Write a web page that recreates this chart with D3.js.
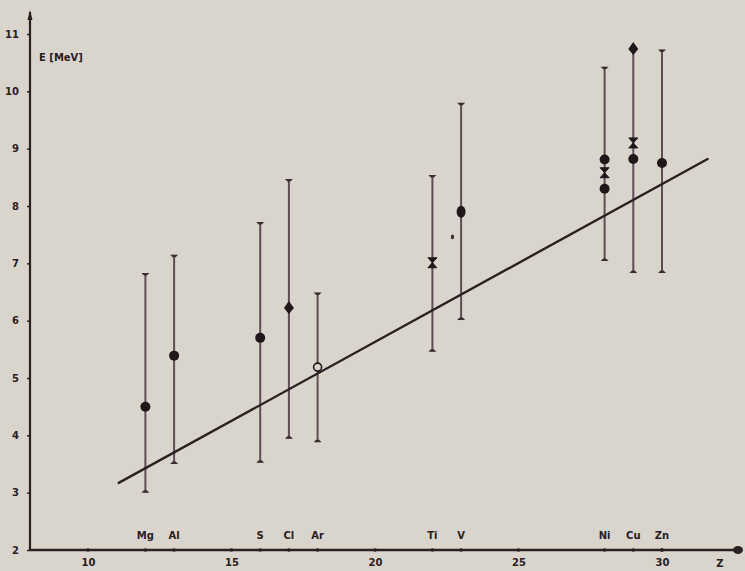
<!DOCTYPE html>
<html><head><meta charset="utf-8">
<script src="https://cdn.jsdelivr.net/npm/d3@7/dist/d3.min.js"></script>
<style>html,body{margin:0;padding:0;background:#d9d5cc;}svg{display:block;}</style>
</head><body>
<svg id="c" width="745" height="571"></svg>
<script>
// ---- data ----
const elements = ["Mg","Al","S","Cl","Ar","Ti","V","Ni","Cu","Zn"];
const elementZ = [12,13,16,17,18,22,23,28,29,30];
const errHigh  = [6.83,7.15,7.72,8.47,6.49,8.54,9.80,10.43,10.74,10.73];
const errLow   = [3.00,3.50,3.52,3.94,3.88,5.46,6.01,7.04,6.83,6.83];
// filled circles
const dotZ = [12,13,16,28,28,29,30];
const dotE = [4.50,5.39,5.70,8.81,8.30,8.82,8.75];
// filled diamonds
const diamondZ = [17,29];
const diamondE = [6.22,10.74];
// open circle
const openZ = [18];
const openE = [5.19];
// hourglass ("x") markers
const hourZ = [22,28,29];
const hourE = [7.01,8.58,9.10];
// filled ellipse
const ellZ = [23];
const ellE = [7.90];
// small speck
const speckZ = [22.7];
const speckE = [7.46];
// fit line endpoints
const lineZ = [11.07,31.59];
const lineE = [3.17,8.82];
const xTicks = [10,15,20,25,30];
const yTicks = [2,3,4,5,6,7,8,9,10,11];

// ---- scales ----
const svg = d3.select("#c");
const x = d3.scaleLinear().domain([10,30]).range([88,662]);
const y = d3.scaleLinear().domain([2,11]).range([550,34]);
const ink = "#2a2022";
const barCol = "#5f4c55";
const font = "'DejaVu Sans', sans-serif";

const x0 = x.invert(30), x1 = x.invert(740);

// axes
const yAxis = d3.axisLeft(y).tickValues(yTicks).tickSize(3).tickPadding(8).tickFormat(d3.format("d"));
const gy = svg.append("g").attr("transform",`translate(${x(x0)},0)`).call(yAxis);
gy.select(".domain").remove();
gy.selectAll(".tick line").attr("stroke",ink).attr("stroke-width",1.5);
gy.selectAll(".tick text").attr("fill",ink).attr("font-family",font).attr("font-size",10).attr("font-weight","bold");

const xAxis = d3.axisBottom(x).tickValues(xTicks).tickSize(0).tickPadding(9).tickFormat(d3.format("d"));
const gx = svg.append("g").attr("transform",`translate(0,${y(2)})`).call(xAxis);
gx.select(".domain").remove();
gx.selectAll(".tick text").attr("fill",ink).attr("font-family",font).attr("font-size",10).attr("font-weight","bold");

// axis lines
svg.append("line").attr("x1",x(x0)).attr("x2",x(x0)).attr("y1",y(2)).attr("y2",12)
  .attr("stroke",ink).attr("stroke-width",2.2);
svg.append("path").attr("d",`M${x(x0)-2.5},${20} L${x(x0)},${10} L${x(x0)+2.5},${20}Z`).attr("fill",ink);
svg.append("line").attr("x1",x(x0)).attr("x2",x(x1)).attr("y1",y(2)).attr("y2",y(2))
  .attr("stroke",ink).attr("stroke-width",2.5);
svg.append("ellipse").attr("cx",x(x1)-2).attr("cy",y(2)).attr("rx",5).attr("ry",4).attr("fill",ink);
// small ticks on x axis at tick values and elements
svg.selectAll(".xt").data(xTicks.concat(elementZ)).enter().append("circle")
  .attr("cx",d=>x(d)).attr("cy",y(2)).attr("r",1.8).attr("fill",ink);

// axis titles
svg.append("text").attr("x",39).attr("y",61).attr("fill",ink).attr("font-family",font)
  .attr("font-size",10).attr("font-weight","bold").text("E [MeV]");
svg.append("text").attr("x",720).attr("y",567).attr("fill",ink).attr("font-family",font)
  .attr("font-size",10).attr("font-weight","bold").attr("text-anchor","middle").text("Z");

// element labels
svg.selectAll(".el").data(elements).enter().append("text")
  .attr("x",(d,i)=>x(elementZ[i])).attr("y",y(2)-11).attr("text-anchor","middle")
  .attr("fill",ink).attr("font-family",font).attr("font-size",10).attr("font-weight","bold").text(d=>d);

// error bars
const eb = svg.append("g");
eb.selectAll("line").data(elementZ).enter().append("line")
  .attr("x1",d=>x(d)).attr("x2",d=>x(d))
  .attr("y1",(d,i)=>y(errHigh[i])).attr("y2",(d,i)=>y(errLow[i]))
  .attr("stroke",barCol).attr("stroke-width",2);
elementZ.forEach((z,i)=>{
  [errHigh[i],errLow[i]].forEach(v=>{
    eb.append("path").attr("d",`M${x(z)-4},${y(v)} L${x(z)+4},${y(v)} L${x(z)+1.5},${y(v)+2.5} L${x(z)-1.5},${y(v)+2.5}Z`)
      .attr("fill","#3a2c30").attr("transform",v===errLow[i]?`rotate(180,${x(z)},${y(v)})`:null);
  });
});

// fit line
svg.append("line").attr("x1",x(lineZ[0])).attr("y1",y(lineE[0])).attr("x2",x(lineZ[1])).attr("y2",y(lineE[1]))
  .attr("stroke",ink).attr("stroke-width",2.4).attr("stroke-linecap","round");

// markers
const mk = "#1f1719";
svg.selectAll(".dot").data(dotZ).enter().append("circle")
  .attr("cx",d=>x(d)).attr("cy",(d,i)=>y(dotE[i])).attr("r",5).attr("fill",mk);
svg.selectAll(".dia").data(diamondZ).enter().append("path")
  .attr("d",(d,i)=>{const cx=x(d),cy=y(diamondE[i]);return `M${cx},${cy-7} L${cx+5},${cy} L${cx},${cy+6} L${cx-5},${cy}Z`;})
  .attr("fill",mk);
svg.selectAll(".open").data(openZ).enter().append("circle")
  .attr("cx",d=>x(d)).attr("cy",(d,i)=>y(openE[i])).attr("r",4).attr("fill","#d9d5cc").attr("stroke",mk).attr("stroke-width",1.6);
svg.selectAll(".hour").data(hourZ).enter().append("path")
  .attr("d",(d,i)=>{const cx=x(d),cy=y(hourE[i]);return `M${cx-4.5},${cy-5} L${cx+4.5},${cy-5} L${cx},${cy} L${cx+4.5},${cy+5} L${cx-4.5},${cy+5} L${cx},${cy}Z`;})
  .attr("fill",mk).attr("stroke",mk).attr("stroke-width",1);
svg.selectAll(".ell").data(ellZ).enter().append("ellipse")
  .attr("cx",d=>x(d)).attr("cy",(d,i)=>y(ellE[i])).attr("rx",4.5).attr("ry",6).attr("fill",mk);
svg.selectAll(".speck").data(speckZ).enter().append("ellipse")
  .attr("cx",d=>x(d)).attr("cy",(d,i)=>y(speckE[i])).attr("rx",1.6).attr("ry",2.4).attr("fill","#3a2c30");
</script>
</body></html>
